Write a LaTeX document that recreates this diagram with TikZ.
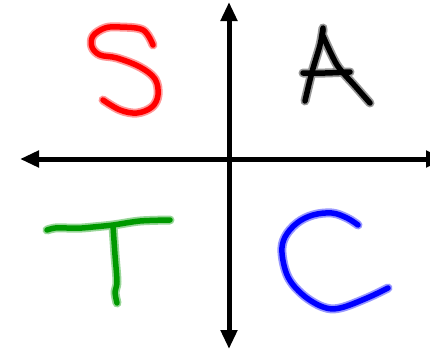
\documentclass[tikz,border=0pt]{standalone}
\usetikzlibrary{arrows.meta}
\begin{document}
\begin{tikzpicture}[x=1pt,y=-1pt,
  axis/.style={line width=5pt,-{Triangle[length=19pt,width=16pt]}},
  glow/.style={line width=9pt,line cap=round,line join=round,draw=#1!40},
  ink/.style={line width=5.5pt,line cap=round,line join=round,draw=#1},
]
\useasboundingbox (0,0) rectangle (430,351);
\clip (0,0) rectangle (430,351);
\coordinate (o) at (229,159);
\coordinate (l) at (20,159);
\coordinate (r) at (445,159);
\coordinate (t) at (229,2);
\coordinate (b) at (229,349);
\draw[axis] (o) -- (l);
\draw[axis] (o) -- (r);
\draw[axis] (o) -- (t);
\draw[axis] (o) -- (b);
% S
\foreach \s in {glow,ink}{
\draw[\s=red] plot[smooth,tension=0.6] coordinates {(153,45) (143,30) (120,27) (105,28) (93,36) (92,47) (100,55) (117,58) (140,67) (155,79) (158,95) (152,107) (137,113) (120,110) (103,100)};
}
% A
\foreach \s in {glow,ink}{
\draw[\s=black] plot[smooth,tension=0.5] coordinates {(323,28) (320,45) (312,72) (305,101)};
\draw[\s=black] plot[smooth,tension=0.5] coordinates {(322,38) (323,30)};
\draw[\s=black] plot[smooth,tension=0.5] coordinates {(323,36) (337,65) (355,86) (370,103)};
\draw[\s=black] plot[smooth,tension=0.5] coordinates {(303,73) (325,73) (350,72)};
}
% T
\foreach \s in {glow,ink}{
\draw[\s={green!60!black}] plot[smooth,tension=0.5] coordinates {(47,230) (55,228) (67,228) (82,228) (93,227) (113,225) (140,221) (170,220)};
\draw[\s={green!60!black}] plot[smooth,tension=0.5] coordinates {(113,226) (115,255) (117,282) (115,292) (117,303)};
}
% C
\foreach \s in {glow,ink}{
\draw[\s=blue] plot[smooth,tension=0.6] coordinates {(358,225) (347,218) (332,213) (313,215) (297,223) (285,237) (282,253) (288,277) (303,295) (323,307) (340,308) (367,298) (388,288)};
}
\end{tikzpicture}
\end{document}
